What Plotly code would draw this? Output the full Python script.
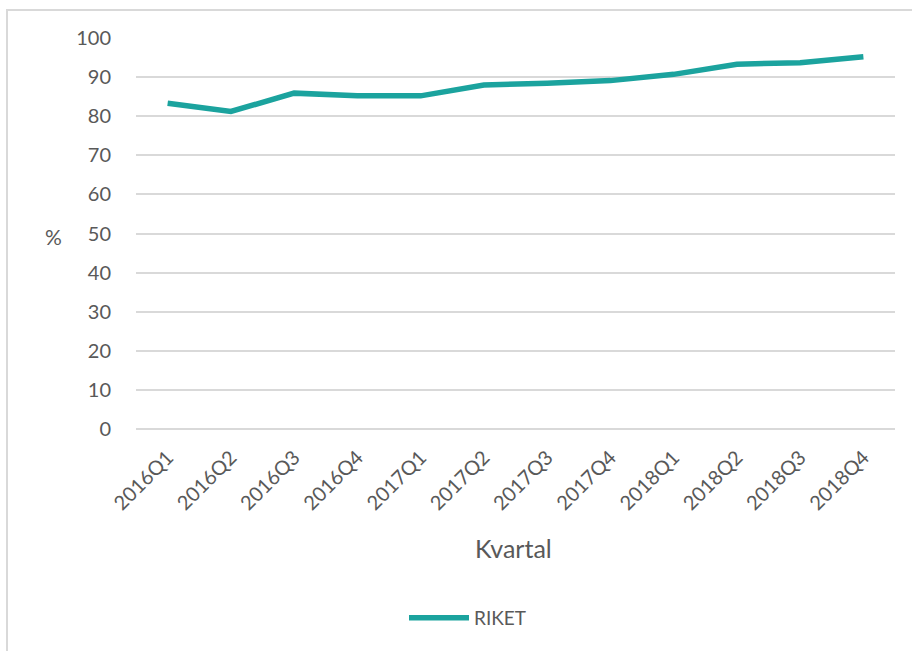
import plotly.graph_objects as go

# Quarterly share (%) for the whole country
quarters = ["2016Q1", "2016Q2", "2016Q3", "2016Q4",
            "2017Q1", "2017Q2", "2017Q3", "2017Q4",
            "2018Q1", "2018Q2", "2018Q3", "2018Q4"]
riket = [83.3, 81.2, 85.9, 85.2, 85.2, 88.0, 88.4, 89.1, 90.7, 93.3, 93.7, 95.2]
y_ticks = list(range(0, 101, 10))

W, H = 912, 651
L, R, T, B = 136, 17, 38, 222
plot_w = W - L - R
plot_h = H - T - B

def px_x(p):
    return (p - L) / plot_w

def px_y(p):
    return (H - B - p) / plot_h

text_color = "#595959"
grid_color = "#d9d9d9"
line_color = "#1ba39e"
font_family = "Lato, 'Open Sans', sans-serif"

fig = go.Figure()
fig.add_trace(go.Scatter(
    x=quarters, y=riket, mode="lines", name="RIKET",
    line=dict(color=line_color, width=5.5, shape="linear"),
))

fig.update_layout(
    width=W, height=H,
    margin=dict(l=L, r=R, t=T, b=B),
    paper_bgcolor="white", plot_bgcolor="white",
    font=dict(family=font_family, color=text_color, size=20),
    showlegend=True,
    legend=dict(orientation="h", x=px_x(468), xanchor="center",
                y=px_y(618), yanchor="middle",
                font=dict(size=19, color=text_color),
                itemwidth=60, bgcolor="rgba(0,0,0,0)"),
    xaxis=dict(
        type="category", tickangle=-45, showgrid=False, showline=False,
        ticks="", tickfont=dict(size=20, color=text_color),
        ticklabelstandoff=12,
        range=[-0.5, len(quarters) - 0.5],
    ),
    yaxis=dict(
        range=[0, 100], tickvals=y_ticks, showgrid=True, gridcolor=grid_color,
        gridwidth=2, zeroline=True, zerolinecolor=grid_color, zerolinewidth=2,
        showline=False, ticks="", ticklabelstandoff=24,
        tickfont=dict(size=20, color=text_color),
    ),
    shapes=[dict(
        type="rect", xref="paper", yref="paper",
        x0=px_x(7), x1=px_x(920), y0=px_y(660), y1=px_y(10),
        line=dict(color=grid_color, width=2), fillcolor="rgba(0,0,0,0)",
        layer="below",
    )],
    annotations=[
        dict(text="%", xref="paper", yref="paper", x=px_x(53), y=px_y(236),
             xanchor="center", yanchor="middle",
             showarrow=False, font=dict(size=21, color=text_color)),
        dict(text="Kvartal", xref="paper", yref="paper", x=px_x(513), y=px_y(548),
             xanchor="center", yanchor="middle",
             showarrow=False, font=dict(size=25, color=text_color)),
    ],
)

fig.write_html("out.html")
